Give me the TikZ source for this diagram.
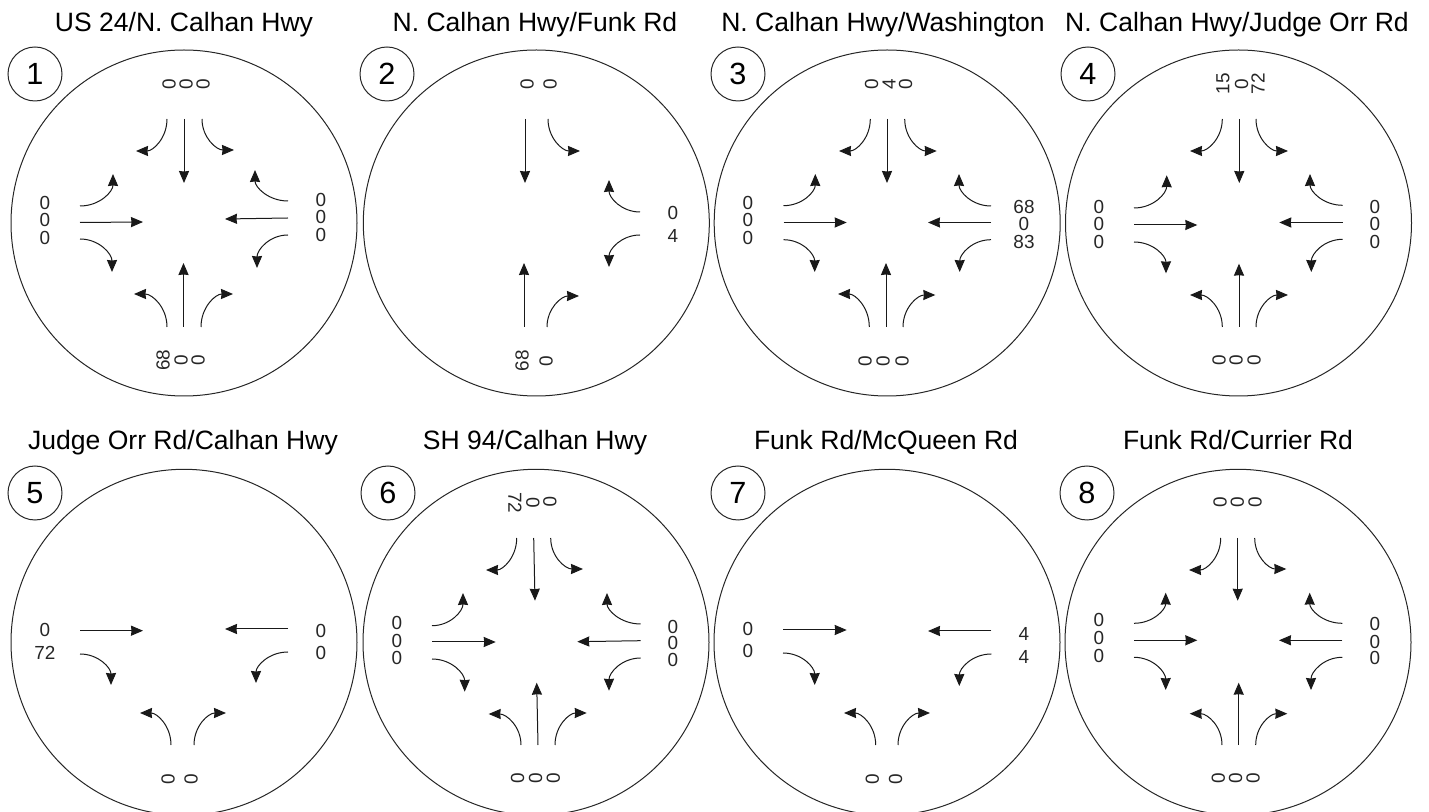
\documentclass[tikz,border=0pt]{standalone}
\usepackage{fontspec}
\setmainfont{Liberation Sans}
\usetikzlibrary{arrows.meta}
\newcount\nn
\newcommand\nxt{\global\advance\nn by 1\relax}
\tikzset{
  arr/.style={line width=0.75pt,draw=black!90,-{Stealth[length=9pt,width=7.6pt,inset=0.4pt]}},
  bigc/.style={circle,draw=black!85,line width=0.75pt,minimum size=259.5pt,inner sep=0pt,outer sep=0pt},
  badge/.style={circle,draw=black!85,line width=0.75pt,minimum size=40.5pt,inner sep=0pt,outer sep=0pt,font=\fontsize{23}{24}\selectfont},
  ttl/.style={anchor=base,inner sep=0pt,font=\fontsize{19.9}{22}\selectfont},
  lab/.style={inner sep=0pt,text=black!85,font=\fontsize{14.2}{15}\selectfont}
}
% straight arrow
\newcommand\sa[4]{\nxt\coordinate (s\the\nn) at (#1,#2);\coordinate (e\the\nn) at (#3,#4);\draw[arr] (s\the\nn) -- (e\the\nn);}
% turn: leaves vertically
\newcommand\tv[4]{\nxt\pgfmathsetmacro\ca{#2+.6*(#4-#2)}\pgfmathsetmacro\cb{#1+.45*(#3-#1)}%
  \coordinate (s\the\nn) at (#1,#2);\coordinate (e\the\nn) at (#3,#4);%
  \draw[arr] (s\the\nn) .. controls (#1,\ca) and (\cb,#4) .. (e\the\nn);}
% turn: leaves horizontally
\newcommand\tz[4]{\nxt\pgfmathsetmacro\ca{#1+.6*(#3-#1)}\pgfmathsetmacro\cb{#2+.45*(#4-#2)}%
  \coordinate (s\the\nn) at (#1,#2);\coordinate (e\the\nn) at (#3,#4);%
  \draw[arr] (s\the\nn) .. controls (\ca,#2) and (#3,\cb) .. (e\the\nn);}
\newcommand\lbl[3]{\nxt\node[lab] (l\the\nn) at (#1,#2) {#3};}
\newcommand\lbu[3]{\nxt\node[lab,rotate=90] (l\the\nn) at (#1,#2) {#3};}
\newcommand\lbd[3]{\nxt\node[lab,rotate=-90] (l\the\nn) at (#1,#2) {#3};}
\begin{document}
\begin{tikzpicture}[x=0.75pt,y=-0.75pt]
\useasboundingbox (0,0) rectangle (1429,812);
% titles
\node[ttl] (t1) at (184,32) {US 24/N. Calhan Hwy};
\node[ttl] (t2) at (535,32) {N. Calhan Hwy/Funk Rd};
\node[ttl] (t3) at (883,32) {N. Calhan Hwy/Washington};
\node[ttl] (t4) at (1237,32) {N. Calhan Hwy/Judge Orr Rd};
\node[ttl] (t5) at (183,450) {Judge Orr Rd/Calhan Hwy};
\node[ttl] (t6) at (535,450) {SH 94/Calhan Hwy};
\node[ttl] (t7) at (886,450) {Funk Rd/McQueen Rd};
\node[ttl] (t8) at (1238,450) {Funk Rd/Currier Rd};
% circles
\node[bigc] (c1) at (184,223) {};
\node[bigc] (c2) at (536.3,223) {};
\node[bigc] (c3) at (887.2,223) {};
\node[bigc] (c4) at (1238.5,223) {};
\node[bigc] (c5) at (184,642.3) {};
\node[bigc] (c6) at (536,642.3) {};
\node[bigc] (c7) at (887,642.3) {};
\node[bigc] (c8) at (1238,642.3) {};
\node[badge] (n1) at (35,74) {1};
\node[badge] (n2) at (387,74) {2};
\node[badge] (n3) at (738,74) {3};
\node[badge] (n4) at (1088,74) {4};
\node[badge] (n5) at (35,493) {5};
\node[badge] (n6) at (388,493) {6};
\node[badge] (n7) at (738,493) {7};
\node[badge] (n8) at (1087,493) {8};
% panel 1
\sa{184}{119}{184}{183}\tv{167}{119}{136}{151}\tv{202}{119}{234}{150}
\sa{80}{222.5}{143}{222}\tz{80}{206}{113}{174}\tz{80}{239}{112}{272}
\sa{288}{218}{225}{219}\tz{288}{201}{255}{170}\tz{288}{235}{257}{268}
\sa{183.5}{327}{183.5}{263}\tv{167}{327}{134}{294}\tv{201}{327}{233}{294}
\lbu{169}{84}{0}\lbu{186}{84}{0}\lbu{203}{84}{0}
\lbl{45}{203}{0}\lbl{45}{220}{0}\lbl{45}{238}{0}
\lbl{321}{200}{0}\lbl{321}{217}{0}\lbl{321}{235}{0}
\lbu{163}{360}{68}\lbu{181}{360}{0}\lbu{198}{360}{0}
% panel 2
\sa{525}{119}{525}{183}\tv{548}{119}{580}{151}
\sa{524}{327}{524}{263}\tv{547}{327}{579}{296}
\tz{640}{212}{609}{180}\tz{640}{235}{609}{267}
\lbu{527}{84}{0}\lbu{550}{84}{0}
\lbl{673}{213}{0}\lbl{673}{236}{4}
\lbu{522}{361}{68}\lbu{546}{361}{0}
% panel 3
\sa{887}{119}{887}{183}\tv{870.3}{119}{839}{151}\tv{904.7}{119}{936.7}{151}
\sa{783.5}{222.5}{846.7}{222.5}\tz{783.5}{205.7}{815.3}{174}\tz{783.5}{239.7}{814.7}{272}
\sa{991}{222.5}{928}{222.5}\tz{991}{206}{959}{174}\tz{991}{239.7}{959.7}{272}
\sa{886}{327}{886}{263}\tv{869.3}{327}{838}{294}\tv{903}{327}{935.3}{295}
\lbu{871.7}{84}{0}\lbu{889}{84}{4}\lbu{905.7}{84}{0}
\lbl{748}{203}{0}\lbl{748}{220}{0}\lbl{748}{238}{0}
\lbl{1024}{207}{68}\lbl{1024}{224}{0}\lbl{1024}{242}{83}
\lbu{865}{361}{0}\lbu{883}{361}{0}\lbu{902}{361}{0}
% panel 4
\sa{1239.3}{119}{1239.3}{183}\tv{1222.3}{119}{1190}{151}\tv{1256}{119}{1288}{151}
\sa{1134}{225}{1197.3}{225}\tz{1134}{208}{1166.7}{175.3}\tz{1134}{242}{1166}{273.3}
\sa{1342.7}{222.5}{1279.3}{222.5}\tz{1342.7}{205.3}{1310}{174}\tz{1342.7}{239.3}{1311.3}{272}
\sa{1239}{327}{1239}{263.7}\tv{1222.3}{327}{1190}{295}\tv{1256}{327}{1288}{295}
\lbu{1223}{84}{15}\lbu{1241.7}{84}{0}\lbu{1258}{84}{72}
\lbl{1099}{207}{0}\lbl{1099}{224}{0}\lbl{1099}{242}{0}
\lbl{1375}{207}{0}\lbl{1375}{224}{0}\lbl{1375}{242}{0}
\lbu{1219}{360}{0}\lbu{1236}{360}{0}\lbu{1254}{360}{0}
% panel 5
\sa{80}{630.7}{143}{630.7}\tz{80}{654}{111}{685}
\sa{288}{629}{225}{629}\tz{288}{652}{256}{683}
\tv{171}{745}{140}{713}\tv{194}{745}{226}{713}
\lbl{45}{630}{0}\lbl{45}{653}{72}
\lbl{321}{631}{0}\lbl{321}{653}{0}
\lbu{168}{779}{0}\lbu{191}{779}{0}
% panel 6
\sa{533.7}{538}{535}{600.7}\tv{516.7}{538}{486}{570}\tv{550.7}{538}{583}{569}
\sa{432.3}{642}{495.7}{642}\tz{432}{625.7}{463}{593}\tz{432}{659}{464.7}{691.7}
\sa{640.7}{640.7}{577.3}{641.7}\tz{640.7}{624}{607}{593}\tz{640.7}{658}{609}{690.7}
\sa{538}{745}{536.7}{682.7}\tv{521}{745}{488.7}{714}\tv{555}{745}{586.7}{713}
\lbd{515}{503}{72}\lbd{533}{503}{0}\lbd{550}{502}{0}
\lbl{397}{623}{0}\lbl{397}{640.7}{0}\lbl{397}{658}{0}
\lbl{673}{627}{0}\lbl{673}{643}{0}\lbl{673}{660}{0}
\lbu{517.7}{778}{0}\lbu{535.7}{778}{0}\lbu{553.3}{778}{0}
% panel 7
\sa{783}{630}{846.7}{630}\tz{783}{653}{814.7}{685}
\sa{991.3}{631}{928}{631}\tz{991.3}{654}{959.3}{686}
\tv{875.7}{745}{844}{713}\tv{898}{745}{930}{713}
\lbl{748}{629}{0}\lbl{748}{651}{0}
\lbl{1024}{634}{4}\lbl{1024}{657}{4}
\lbu{872.3}{779}{0}\lbu{895.7}{779}{0}
% panel 8
\sa{1237.7}{538}{1237.7}{600.7}\tv{1220.7}{538}{1189}{570}\tv{1254.7}{538}{1286.3}{569}
\sa{1134}{640.3}{1197.3}{640.3}\tz{1134}{623.3}{1165.7}{592.7}\tz{1134}{657.3}{1165.7}{690}
\sa{1342.3}{640.3}{1279}{640.3}\tz{1342.3}{623.3}{1309.7}{592.7}\tz{1342.3}{657.3}{1311}{690}
\sa{1238.7}{745}{1238.7}{682.7}\tv{1222}{745}{1189.7}{713.7}\tv{1255.7}{745}{1287.3}{713.7}
\lbu{1220}{502.7}{0}\lbu{1237.3}{502.7}{0}\lbu{1255}{502.7}{0}
\lbl{1099}{620}{0}\lbl{1099}{637.7}{0}\lbl{1099}{655.7}{0}
\lbl{1375}{624}{0}\lbl{1375}{641.7}{0}\lbl{1375}{658.3}{0}
\lbu{1218.3}{778}{0}\lbu{1235.7}{778}{0}\lbu{1253}{778}{0}
\end{tikzpicture}
\end{document}
